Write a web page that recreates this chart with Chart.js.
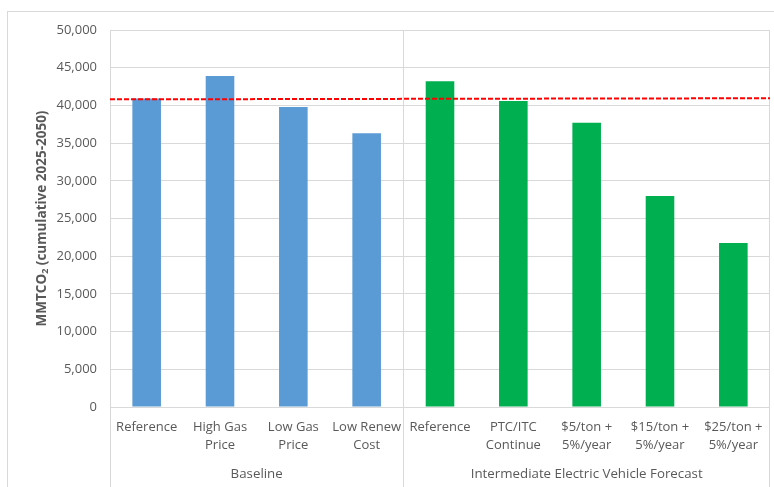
<!DOCTYPE html>
<html lang="en">
    <head>
        <meta charset="UTF-8" />
        <title>MMTCO2 by scenario</title>
        <script src="https://cdn.jsdelivr.net/npm/chart.js"></script>
        <style>
            body {
                margin: 0;
                background: #ffffff;
            }
        </style>
    </head>
    <body>
        <canvas id="myChart" width="774" height="487"></canvas>

        <script>
            const categories = [
                ["Reference"],
                ["High Gas", "Price"],
                ["Low Gas", "Price"],
                ["Low Renew", "Cost"],
                ["Reference"],
                ["PTC/ITC", "Continue"],
                ["$5/ton +", "5%/year"],
                ["$15/ton +", "5%/year"],
                ["$25/ton +", "5%/year"],
            ];
            const groupNames = ["Baseline", "Intermediate Electric Vehicle Forecast"];
            const groupSizes = [4, 5];
            const emissions = [40900, 43900, 39800, 36300, 43200, 40600, 37700, 28000, 21750];
            // dashed reference line, slightly uneven in the original
            const refLine = [40800, 40950];

            const groupColors = ["#5B9BD5", "#00B050"];
            const barColors = [];
            groupSizes.forEach((n, g) => {
                for (let i = 0; i < n; i++) barColors.push(groupColors[g]);
            });

            const gridColor = "#D9D9D9";
            const textColor = "#595959";
            const fontFamily = "'Open Sans', sans-serif";

            const decorations = {
                id: "decorations",
                beforeDraw(chart) {
                    const ctx = chart.ctx;
                    ctx.save();
                    ctx.strokeStyle = gridColor;
                    ctx.lineWidth = 1;
                    ctx.strokeRect(7.5, 11.5, 800, 500);
                    ctx.restore();
                },
                afterDatasetsDraw(chart) {
                    const ctx = chart.ctx;
                    const a = chart.chartArea;
                    const y = chart.scales.y;
                    const x = chart.scales.x;
                    ctx.save();
                    // plot border and group divider
                    ctx.strokeStyle = gridColor;
                    ctx.lineWidth = 1;
                    ctx.strokeRect(Math.round(a.left) + 0.5, Math.round(a.top) + 0.5, Math.round(a.right - a.left) - 1, Math.round(a.bottom - a.top));
                    const step = (x.right - x.left) / categories.length;
                    let idx = 0;
                    const bounds = [x.left];
                    groupSizes.forEach((n) => {
                        idx += n;
                        bounds.push(x.left + step * idx);
                    });
                    bounds.forEach((bx, i) => {
                        const px = Math.round(bx) + (i === bounds.length - 1 ? -0.5 : 0.5);
                        ctx.beginPath();
                        const top = i === 0 || i === bounds.length - 1 ? a.bottom : a.top;
                        ctx.moveTo(px, top);
                        ctx.lineTo(px, chart.height);
                        ctx.stroke();
                    });
                    // red dashed line
                    ctx.strokeStyle = "#FF0000";
                    ctx.lineWidth = 2;
                    ctx.setLineDash([5, 2]);
                    ctx.beginPath();
                    ctx.moveTo(a.left, y.getPixelForValue(refLine[0]));
                    ctx.lineTo(a.right, y.getPixelForValue(refLine[1]));
                    ctx.stroke();
                    ctx.setLineDash([]);
                    // group labels
                    ctx.fillStyle = textColor;
                    ctx.font = "13.3px " + fontFamily;
                    ctx.textAlign = "center";
                    ctx.textBaseline = "middle";
                    groupNames.forEach((g, i) => {
                        ctx.fillText(g, (bounds[i] + bounds[i + 1]) / 2, 474);
                    });
                    // y axis title with subscript
                    ctx.translate(42, (a.top + a.bottom) / 2);
                    ctx.rotate(-Math.PI / 2);
                    const big = "bold 13.5px " + fontFamily;
                    const small = "bold 9px " + fontFamily;
                    const parts = [
                        ["MMTCO", big, 0],
                        ["2", small, 3],
                        [" (cumulative 2025-2050)", big, 0],
                    ];
                    let total = 0;
                    parts.forEach((p) => {
                        ctx.font = p[1];
                        total += ctx.measureText(p[0]).width;
                    });
                    let cx = -total / 2;
                    ctx.textAlign = "left";
                    parts.forEach((p) => {
                        ctx.font = p[1];
                        ctx.fillText(p[0], cx, p[2]);
                        cx += ctx.measureText(p[0]).width;
                    });
                    ctx.restore();
                },
            };

            const ctx = document.getElementById("myChart").getContext("2d");
            const myChart = new Chart(ctx, {
                type: "bar",
                data: {
                    labels: categories,
                    datasets: [
                        {
                            label: "MMTCO2",
                            data: emissions,
                            backgroundColor: barColors,
                            borderWidth: 0,
                            categoryPercentage: 1,
                            barPercentage: 0.39,
                        },
                    ],
                },
                options: {
                    responsive: false,
                    animation: false,
                    layout: {
                        padding: { top: 30, right: 4, left: 0, bottom: 0 },
                    },
                    plugins: {
                        legend: { display: false },
                        tooltip: { enabled: false },
                    },
                    scales: {
                        x: {
                            grid: { display: false, drawTicks: false },
                            border: { display: false },
                            ticks: {
                                color: textColor,
                                font: { family: fontFamily, size: 13, lineHeight: 1.38 },
                                padding: 11,
                                maxRotation: 0,
                                autoSkip: false,
                            },
                            afterFit(scale) {
                                scale.height = 80;
                            },
                        },
                        y: {
                            min: 0,
                            max: 50000,
                            grid: { color: gridColor, drawTicks: false },
                            border: { display: false },
                            ticks: {
                                stepSize: 5000,
                                color: textColor,
                                font: { family: fontFamily, size: 13 },
                                padding: 13,
                                callback: (v) => v.toLocaleString("en-US"),
                            },
                            afterFit(scale) {
                                scale.width = 110;
                            },
                        },
                    },
                },
                plugins: [decorations],
            });
        </script>
    </body>
</html>
